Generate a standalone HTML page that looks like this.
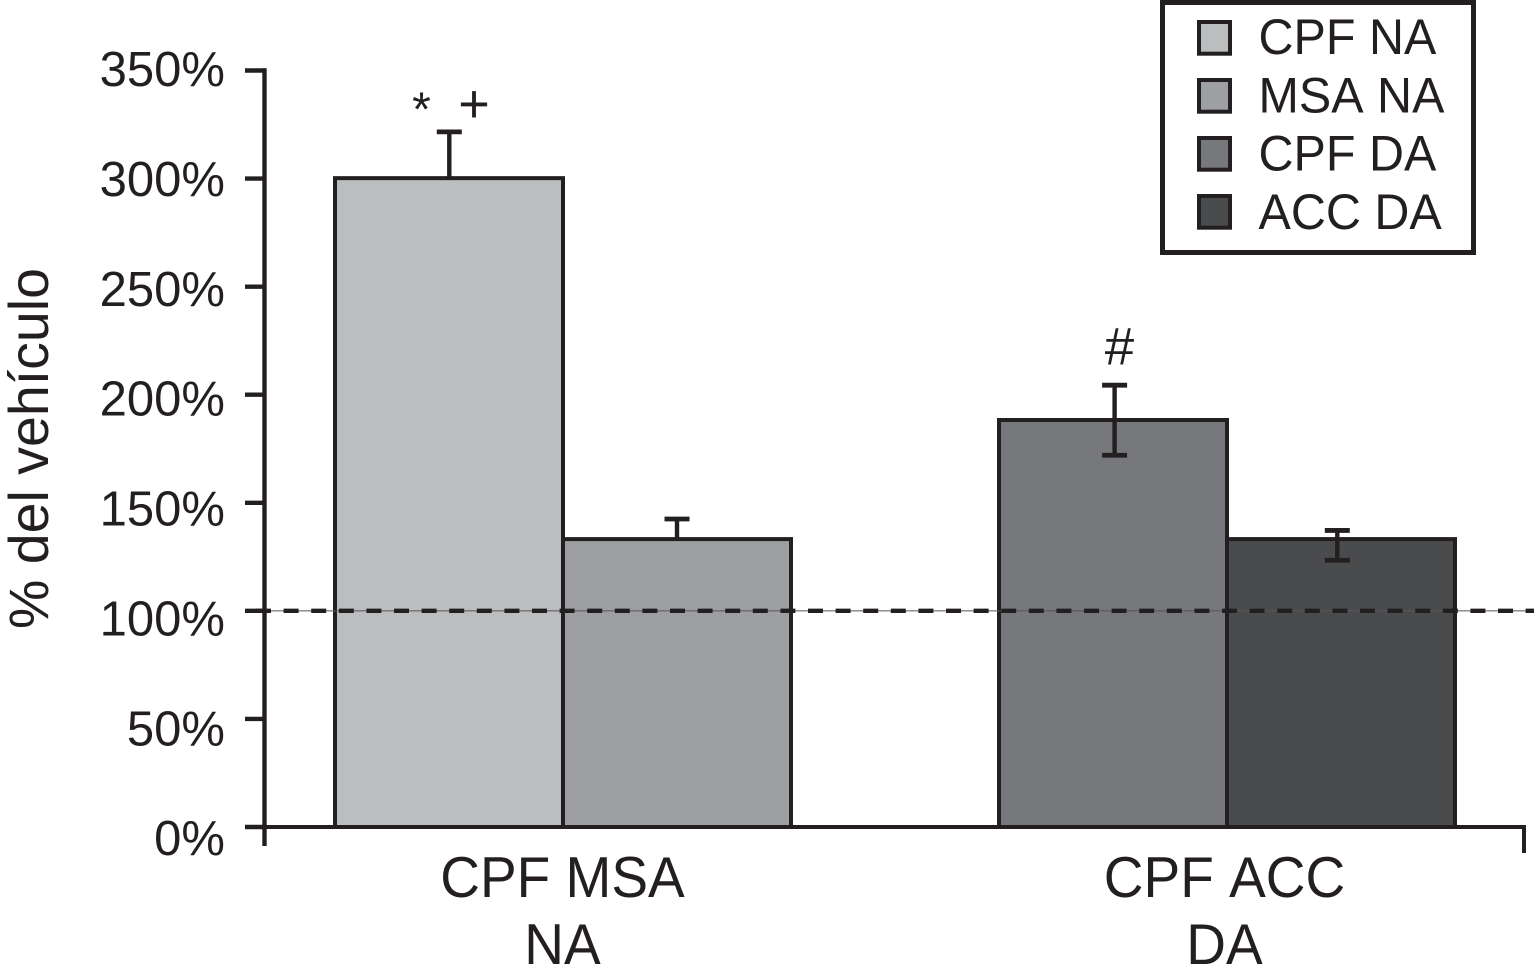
<!DOCTYPE html>
<html>
<head>
<meta charset="utf-8">
<style>
html,body{margin:0;padding:0;background:#fff;}
svg{display:block;}
text{font-family:"Liberation Sans",sans-serif;fill:#231f20;font-kerning:none;}
</style>
</head>
<body>
<svg id="chart" width="1534" height="976" viewBox="0 0 1534 976" xmlns="http://www.w3.org/2000/svg"></svg>
<script>
const groupLabels = [["CPF MSA","NA"],["CPF ACC","DA"]];
const seriesNames = ["CPF NA","MSA NA","CPF DA","ACC DA"];
const seriesValues = [300.2,133.2,188.3,133.2];
const errorUpper = [321.6,142.5,204.4,137.2];
const errorLower = [300.2,133.2,172,123.4];
const seriesColors = ["#bbbdbf","#9d9fa2","#77787b","#4a4b4d"];
const tickValues = [0,50,100,150,200,250,300,350];
const referenceValue = 100;

const ink = "#231f20";
const svg = document.getElementById("chart");
const NS = "http://www.w3.org/2000/svg";
function yScale(v){ return 827 - v * (827 - 70.5) / 350; }
function labelY(v){ return 855.2 - v * (855.2 - 86) / 350; }
function xBar(i){ return i < 2 ? 335 + i * 228 : 999 + (i - 2) * 228; }
function xErr(i){ return xBar(i) + barW / 2 + [0.3,0,1.6,-3.7][i]; }
const barW = 228;
function add(tag, attrs, parent, txt){
  const el = document.createElementNS(NS, tag);
  for (const k in attrs) el.setAttribute(k, attrs[k]);
  if (txt !== undefined) el.textContent = txt;
  (parent || svg).appendChild(el);
  return el;
}

seriesValues.forEach(function(v, i){
  const g = add("g", {});
  
  
  const cx = xErr(i);
  add("line", {x1:cx, x2:cx, y1:yScale(errorUpper[i]), y2:yScale(v), stroke:ink, "stroke-width":4.4}, g);
  add("line", {x1:cx-12.5, x2:cx+12.5, y1:yScale(errorUpper[i]), y2:yScale(errorUpper[i]), stroke:ink, "stroke-width":4.8}, g);
  add("rect", {x:xBar(i), y:yScale(v), width:barW, height:yScale(0)-yScale(v), fill:seriesColors[i], stroke:ink, "stroke-width":4}, g);
  if (errorLower[i] < v) {
    add("line", {x1:cx, x2:cx, y1:yScale(v), y2:yScale(errorLower[i]), stroke:ink, "stroke-width":4.4}, g);
    add("line", {x1:cx-12.5, x2:cx+12.5, y1:yScale(errorLower[i]), y2:yScale(errorLower[i]), stroke:ink, "stroke-width":4.8}, g);
  }
});

const yAxis = add("g", {});


add("line", {x1:264.5, x2:264.5, y1:yScale(350)-2.2, y2:846, stroke:ink, "stroke-width":4.4}, yAxis);
tickValues.forEach(function(t){
  add("line", {x1:245, x2:265, y1:yScale(t), y2:yScale(t), stroke:ink, "stroke-width":4.4}, yAxis);
  const label = add("text", {x:225, y:labelY(t), "text-anchor":"end", "font-size":49}, yAxis, t + "%");
  
  
});

const xAxis = add("g", {});


add("line", {x1:263, x2:1526, y1:yScale(0), y2:yScale(0), stroke:ink, "stroke-width":4}, xAxis);
add("line", {x1:1524, x2:1524, y1:yScale(0), y2:853, stroke:ink, "stroke-width":4}, xAxis);
groupLabels.forEach(function(lines, i){
  const cx = i === 0 ? 562.5 : 1224.5;
  lines.forEach(function(s, j){
    const label = add("text", {transform:"translate(" + cx + "," + (897 + j * 67) + ") scale(1,1.04)", "text-anchor":"middle", "font-size":55}, xAxis, s);
    
    
  });
});

const refLine = add("g", {});


add("line", {x1:256, x2:1534, y1:yScale(referenceValue), y2:yScale(referenceValue), stroke:"#555658", "stroke-width":1}, refLine);
add("line", {x1:256, x2:1534, y1:yScale(referenceValue), y2:yScale(referenceValue), stroke:ink, "stroke-width":4.4, "stroke-dasharray":"15 12.6"}, refLine);

const yTitle = add("text", {transform:"translate(48,448.5) rotate(-90)", "text-anchor":"middle", "font-size":55.5}, svg, "% del vehículo");



const star = add("text", {x:421.5, y:125.5, "text-anchor":"middle", "font-size":48}, svg, "*");


const plus = add("text", {x:474, y:122, "text-anchor":"middle", "font-size":54}, svg, "+");


const hash = add("text", {x:1119.5, y:364.5, "text-anchor":"middle", "font-size":53}, svg, "#");



const legend = add("g", {});


add("rect", {x:1162.5, y:2.5, width:311, height:250, fill:"#fff", stroke:ink, "stroke-width":5}, legend);
seriesNames.forEach(function(n, i){
  const e = add("g", {}, legend);
  
  
  add("rect", {x:1199, y:22 + i * 58, width:31, height:31.7, fill:seriesColors[i], stroke:ink, "stroke-width":4}, e);
  add("text", {transform:"translate(1258.5," + (54 + i * 58.3) + ") scale(1,1.04)", "font-size":48.5}, e, n);
});
</script>
</body>
</html>
